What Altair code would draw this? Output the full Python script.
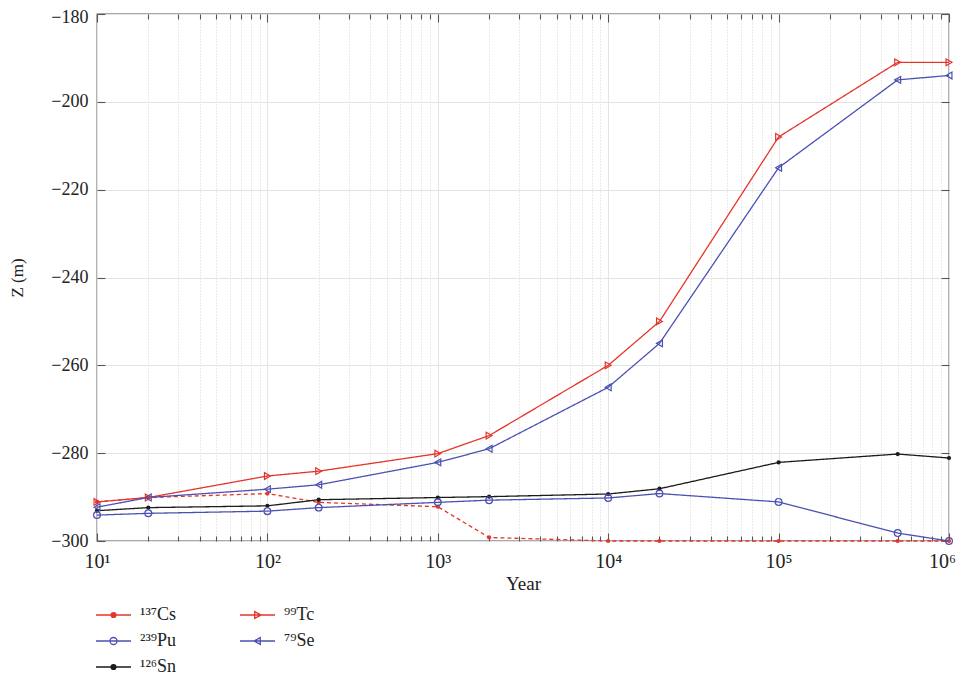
import altair as alt
import pandas as pd

# ---------------- data ----------------
years = [10, 20, 100, 200, 1000, 2000, 10000, 20000, 100000, 500000, 1000000]
series_names = ["¹³⁷Cs", "⁹⁹Tc", "²³⁹Pu", "⁷⁹Se", "¹²⁶Sn"]
cs = [-291.1, -290.1, -289.2, -291.2, -292.2, -299.2, -300, -300, -300, -300, -300]
tc = [-291.1, -290.1, -285.2, -284.1, -280.1, -276, -260, -250, -208, -191, -191]
pu = [-294.1, -293.7, -293.2, -292.4, -291.2, -290.7, -290.2, -289.2, -291.1, -298.2, -300]
se = [-292.3, -290.1, -288.2, -287.2, -282.1, -279, -265, -255, -215, -195, -194]
sn = [-293.1, -292.4, -292.0, -290.6, -290.1, -289.9, -289.3, -288.1, -282.1, -280.2, -281.1]
x_major = [10, 100, 1000, 10000, 100000, 1000000]
x_minor = [m * 10 ** k for k in range(1, 6) for m in range(2, 10)]
y_ticks = [-300, -280, -260, -240, -220, -200, -180]

series_values = [cs, tc, pu, se, sn]
rows = []
for name, vals in zip(series_names, series_values):
    for yr, z in zip(years, vals):
        rows.append({"year": yr, "z": z, "series": name})
df = pd.DataFrame(rows)

dot_series = [series_names[0], series_names[4]]
open_series = [series_names[1], series_names[2], series_names[3]]

# ---------------- style ----------------
RED = "#e4352b"
BLUE = "#4b51b3"
BLACK = "#1b1b1b"
FONT = "Liberation Serif"
AX = "#555555"
W, H = 852, 527

xs = alt.Scale(type="log", domain=[10, 1000000], nice=False)
ys = alt.Scale(domain=[-300, -180], nice=False, zero=False)

def color_scale():
    return alt.Scale(domain=series_names, range=[RED, RED, BLUE, BLUE, BLACK])

# legend symbols: a line segment with the marker in the middle
dot = " ".join(
    f"M-{r},0a{r},{r} 0 1,0 {2*r},0a{r},{r} 0 1,0 -{2*r},0" for r in (0.03, 0.07, 0.11, 0.14)
)
circ = "M-0.2,0a0.2,0.2 0 1,0 0.4,0a0.2,0.2 0 1,0 -0.4,0"
tri_r = "M-0.16,-0.19L0.2,0L-0.16,0.19Z"
tri_l = "M0.16,-0.19L-0.2,0L0.16,0.19Z"
line = "M-1,0H1 "
legend_paths = [line + dot, line + tri_r, line + circ, line + tri_l, line + dot]

main_x = alt.Axis(
    values=x_major, grid=True, gridColor="#e4e4e4", gridWidth=1, ticks=False, domain=False,
    labelExpr="'10' + ['⁰','¹','²','³','⁴','⁵','⁶'][round(log(datum.value)/LN10)]",
    labelFont=FONT, labelFontSize=20, labelColor="#222", labelPadding=10,
    labelOffset={"condition": {"test": "datum.value >= 1000000", "value": -7}, "value": 0},
    title="Year", titleFont=FONT, titleFontSize=19, titleFontWeight="normal",
    titleColor="#222", titlePadding=3, orient="bottom", labelFlush=False,
)
main_y = alt.Axis(
    values=y_ticks, grid=True, gridColor="#e4e4e4", gridWidth=1, ticks=False, domain=False,
    labelFont=FONT, labelFontSize=18, labelColor="#222", labelPadding=9,
    labelOffset={"condition": {"test": "datum.value >= -180", "value": 3}, "value": 0},
    title="Z (m)", titleFont=FONT, titleFontSize=17, titleFontWeight="normal",
    titleColor="#222", titlePadding=24, orient="left",
)

lines = alt.Chart(df).mark_line(strokeWidth=1.3).encode(
    x=alt.X("year:Q", scale=xs, axis=main_x),
    y=alt.Y("z:Q", scale=ys, axis=main_y),
    color=alt.Color("series:N", scale=color_scale(), legend=None),
    strokeDash=alt.StrokeDash(
        "series:N",
        scale=alt.Scale(domain=series_names, range=[[4, 3], [1, 0], [1, 0], [1, 0], [1, 0]]),
        legend=None,
    ),
)

minor_grid = alt.Axis(
    values=x_minor, grid=True, gridColor="#d6d6d6", gridDash=[1, 2], gridWidth=1,
    ticks=False, labels=False, domain=False, title=None, orient="bottom",
)

dots = alt.Chart(df).transform_filter(
    alt.FieldOneOfPredicate(field="series", oneOf=dot_series)
).mark_point(filled=True, size=18, opacity=1, shape="circle").encode(
    x=alt.X("year:Q", scale=xs, axis=minor_grid),
    y=alt.Y("z:Q", scale=ys, axis=None),
    color=alt.Color("series:N", scale=color_scale(), legend=None),
)

open_marks = alt.Chart(df).transform_filter(
    alt.FieldOneOfPredicate(field="series", oneOf=open_series)
).mark_point(filled=False, size=46, strokeWidth=1.2, opacity=1).encode(
    x=alt.X("year:Q", scale=xs, axis=None),
    y=alt.Y("z:Q", scale=ys, axis=None),
    color=alt.Color("series:N", scale=color_scale(), legend=None),
    shape=alt.Shape(
        "series:N",
        scale=alt.Scale(domain=open_series,
                        range=["triangle-right", "circle", "triangle-left"]),
        legend=None,
    ),
)

def tick_axis(orient, offset, values, size):
    return alt.Axis(
        orient=orient, offset=offset, values=values, tickSize=size, ticks=True,
        tickColor=AX, tickWidth=1.1, labels=False, domain=False, grid=False, title=None,
    )

def tick_layer(xaxis, yaxis):
    if yaxis is not None:
        y_enc = alt.Y("z:Q", scale=ys, axis=yaxis)
    else:
        y_enc = alt.Y("z:Q", scale=ys, axis=None)
    return alt.Chart(df).mark_point(opacity=0).encode(
        x=alt.X("year:Q", scale=xs, axis=xaxis),
        y=y_enc,
    )

t1 = tick_layer(tick_axis("top", -H, x_major, 8), tick_axis("right", -W, y_ticks, 8))
t2 = tick_layer(tick_axis("bottom", -H, x_major, 8), tick_axis("left", -W, y_ticks, 8))
t3 = tick_layer(tick_axis("top", -H, x_minor, 5), None)
t4 = tick_layer(tick_axis("bottom", -H, x_minor, 5), None)

legend = alt.Legend(
    orient="none", legendX=-2, legendY=591, columns=2, direction="horizontal",
    columnPadding=62, rowPadding=6, clipHeight=20,
    symbolSize=1225, symbolStrokeWidth=1.3, symbolOpacity=1, symbolFillColor="transparent",
    labelFont=FONT, labelFontSize=18, labelOffset=8, labelColor="#222", padding=0,
    title=None,
)

legend_layer = alt.Chart(df).mark_point(filled=False, opacity=0).encode(
    x=alt.X("year:Q", scale=xs, axis=None),
    y=alt.Y("z:Q", scale=ys, axis=None),
    color=alt.Color("series:N", scale=color_scale(), legend=legend),
    shape=alt.Shape("series:N", scale=alt.Scale(domain=series_names, range=legend_paths),
                    legend=legend),
)

chart = (
    alt.layer(lines, dots, open_marks, t1, t2, t3, t4, legend_layer)
    .resolve_axis(x="independent", y="independent")
    .resolve_scale(color="independent", shape="independent")
    .properties(
        width=W, height=H,
        autosize=alt.AutoSizeParams(type="none"),
        padding={"left": 89, "top": 6, "right": 8, "bottom": 134},
        background="white",
    )
    .configure_view(stroke=AX, strokeWidth=1.3)
)

chart.save("out.html", embed_options={"renderer": "svg", "actions": False})
